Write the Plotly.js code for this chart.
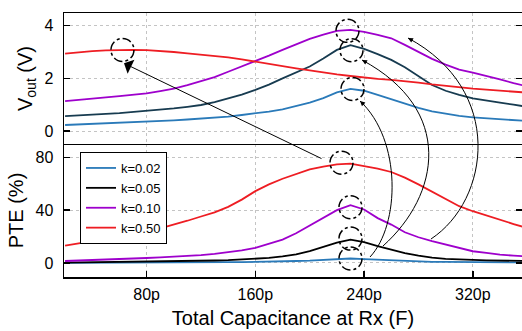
<!DOCTYPE html>
<html>
<head>
<meta charset="utf-8">
<script src="https://cdn.plot.ly/plotly-3.0.1.min.js"></script>
<style>html,body{margin:0;padding:0;background:#fff;}#chart{width:522px;height:331px;}</style>
</head>
<body>
<div id="chart"></div>
<script>
// ---- data ----
const capPF = [20,30,40,50,60,70,80,90,100,110,120,130,140,150,160,170,180,190,200,210,220,230,240,250,260,270,280,290,300,310,320,330,340,350,360];
const tickVals = [80,160,240,320];
const tickText = ['80p','160p','240p','320p'];
const kLabels = ['k=0.02','k=0.05','k=0.10','k=0.50'];

const voutK002 = [0.23,0.25,0.27,0.29,0.31,0.33,0.35,0.38,0.41,0.44,0.47,0.50,0.55,0.61,0.67,0.74,0.82,0.95,1.08,1.25,1.47,1.60,1.53,1.37,1.20,1.05,0.88,0.75,0.66,0.58,0.52,0.48,0.44,0.41,0.38];
const voutK005 = [0.57,0.59,0.62,0.65,0.68,0.72,0.76,0.81,0.86,0.92,0.99,1.10,1.23,1.38,1.56,1.76,2.00,2.22,2.45,2.75,3.08,3.26,3.12,2.92,2.70,2.42,2.08,1.75,1.53,1.37,1.24,1.15,1.08,1.00,0.92];
const voutK010 = [1.14,1.18,1.23,1.28,1.33,1.38,1.43,1.52,1.61,1.74,1.90,2.05,2.25,2.45,2.63,2.86,3.08,3.30,3.50,3.66,3.80,3.84,3.76,3.65,3.52,3.27,3.00,2.74,2.52,2.33,2.22,2.10,1.96,1.82,1.70];
const voutK050 = [2.94,2.99,3.03,3.06,3.08,3.08,3.07,3.04,3.00,2.95,2.90,2.86,2.80,2.72,2.63,2.55,2.47,2.38,2.30,2.22,2.15,2.09,2.03,1.98,1.94,1.90,1.84,1.77,1.71,1.66,1.61,1.57,1.53,1.49,1.46];

const pteK002 = [0.1,0.1,0.1,0.2,0.2,0.2,0.2,0.3,0.3,0.3,0.4,0.5,0.6,0.7,0.8,1.0,1.2,1.5,1.8,2.3,2.9,3.4,3.0,2.5,2.0,1.5,1.1,0.9,0.8,0.7,0.6,0.5,0.5,0.4,0.4];
const pteK005 = [0.3,0.4,0.5,0.6,0.7,0.8,0.9,1.0,1.2,1.4,1.6,1.9,2.2,2.6,3.0,3.8,5.0,6.6,9.0,12.0,15.5,17.7,15.8,12.8,10.0,7.5,5.5,4.0,3.2,2.6,2.3,2.0,1.8,1.6,1.5];
const pteK010 = [1.5,1.8,2.2,2.6,3.0,3.4,3.8,4.3,4.7,5.3,6.0,6.9,8.0,9.5,11.4,14.3,17.7,22.5,28.5,34.5,40.0,43.8,40.5,34.0,29.1,23.3,19.5,16.5,13.8,11.4,8.9,7.7,6.3,5.6,5.0];
const pteK050 = [13.2,14.8,16.5,18.2,20.0,21.8,23.5,26.2,29.0,32.0,35.2,38.4,42.5,48.0,54.4,59.5,63.8,67.5,70.9,73.0,74.6,75.2,73.6,71.5,68.9,64.6,59.5,54.0,48.5,43.0,39.2,35.8,32.9,29.5,26.5];

// ---- styling ----
const FONT = 'Liberation Sans, Arial, sans-serif';
const colVout = ['#2a7ab9','#173b50','#9e00cc','#ee1d23'];
const colPte  = ['#2a7ab9','#000000','#9e00cc','#ee1d23'];
const W = 522, H = 331, M = {l:64, r:0, t:13, b:54};
const split = 0.5038;

const voutSeries = [voutK002, voutK005, voutK010, voutK050];
const pteSeries  = [pteK002, pteK005, pteK010, pteK050];

const traces = [];
voutSeries.forEach((s,i) => traces.push({
  x: capPF, y: s, xaxis:'x2', yaxis:'y2', type:'scatter', mode:'lines',
  line:{color: colVout[i], width:1.8}, showlegend:false, hoverinfo:'skip'
}));
pteSeries.forEach((s,i) => traces.push({
  x: capPF, y: s, xaxis:'x', yaxis:'y', type:'scatter', mode:'lines', name: kLabels[i],
  line:{color: colPte[i], width:1.8}, hoverinfo:'skip'
}));

// helpers for decorations
function px2x(px){ return (px - M.l) / (W - M.l - M.r); }
function py2y(py){ return (H - M.b - py) / (H - M.t - M.b); }
function peakIdx(a){ let b=0; a.forEach((v,i)=>{ if(v>a[b]) b=i; }); return b; }

const shapes = [];
function circ(xr, yr, series, dx, dy){
  const i = peakIdx(series);
  shapes.push({type:'circle', xref:xr, yref:yr, xsizemode:'pixel', ysizemode:'pixel',
    xanchor: capPF[i], yanchor: series[i],
    x0: dx-11.5, x1: dx+11.5, y0: dy-11.5, y1: dy+11.5,
    line:{color:'#000', width:1.5, dash:'dashdot'}, layer:'above'});
}
circ('x2','y2', voutK050, 3, 0);
circ('x2','y2', voutK010, -3, -1);
circ('x2','y2', voutK005, 1, -5);
circ('x2','y2', voutK002, 2, 0);
circ('x','y', pteK050, -9, 1);
circ('x','y', pteK010, 0, -2);
circ('x','y', pteK005, 0, 1);
circ('x','y', pteK002, 0, 0);

// curved arrows (pixel geometry converted to paper)
const arcs = [
  [[370,257],[400,225],[402,140],[360,101]],
  [[383,246],[440,195],[455,110],[362,60]],
  [[431,239],[490,200],[505,90],[408,38]]
];
const annotations = [];
arcs.forEach(p => {
  const path = 'M ' + px2x(p[0][0]) + ',' + py2y(p[0][1]) +
    ' C ' + px2x(p[1][0]) + ',' + py2y(p[1][1]) + ' ' + px2x(p[2][0]) + ',' + py2y(p[2][1]) +
    ' ' + px2x(p[3][0]) + ',' + py2y(p[3][1]);
  shapes.push({type:'path', xref:'paper', yref:'paper', path: path, line:{color:'#000', width:1}, layer:'above'});
  const dx = p[2][0]-p[3][0], dy = p[2][1]-p[3][1], L = Math.hypot(dx,dy);
  annotations.push({xref:'paper', yref:'paper', x: px2x(p[3][0]), y: py2y(p[3][1]),
    ax: dx/L*7, ay: dy/L*7, text:'', showarrow:true, arrowhead:2, arrowsize:1, arrowwidth:1, arrowcolor:'#000'});
});
// straight arrow from PTE peak (k=0.5) to Vout peak (k=0.5)
annotations.push({xref:'paper', yref:'paper', x: px2x(124), y: py2y(63.3), ax: 199, ay: 96,
  text:'', showarrow:true, arrowhead:1, arrowsize:2.6, arrowwidth:1, arrowcolor:'#000'});

const gridStyle = {showgrid:true, gridcolor:'#c4c4c4', gridwidth:1, griddash:'dot'};
const layout = {
  width: W, height: H, margin: M,
  paper_bgcolor:'#fff', plot_bgcolor:'#fff',
  font:{family: FONT, size:16, color:'#000'},
  showlegend:true,
  legend:{x: px2x(80), y: py2y(152), xanchor:'left', yanchor:'top',
    bgcolor:'#fff', bordercolor:'#000', borderwidth:1,
    font:{family: FONT, size:13, color:'#000'}, tracegroupgap:0, itemwidth:30},
  xaxis: Object.assign({domain:[0,1], anchor:'y', range:[19.2,356.2],
    tickvals: tickVals, ticktext: tickText, ticks:'inside', ticklen:6, tickwidth:1.5, tickcolor:'#000',
    showline:true, linecolor:'#000', linewidth:1.5, mirror:false, zeroline:false,
    ticklabelstandoff: 2,
    title:{text:'Total Capacitance at Rx (F)', font:{size:20}, standoff: 9}}, gridStyle),
  xaxis2: Object.assign({domain:[0,1], anchor:'y2', matches:'x', range:[19.2,356.2],
    tickvals: tickVals, showticklabels:false, ticks:'',
    showline:true, linecolor:'#000', linewidth:1.5, mirror:true, zeroline:false}, gridStyle),
  yaxis: Object.assign({domain:[0, split], anchor:'x', range:[-10.6, 90.1],
    tickvals:[0,40,80], ticks:'inside', ticklen:6, tickwidth:1.5, tickcolor:'#000',
    showline:true, linecolor:'#000', linewidth:1.5, mirror:'ticks', zeroline:false,
    ticklabelstandoff: 6,
    title:{text:'PTE (%)', font:{size:20}, standoff: 6}}, gridStyle),
  yaxis2: Object.assign({domain:[split, 1], anchor:'x2', range:[-0.49, 4.48],
    tickvals:[0,2,4], ticks:'inside', ticklen:6, tickwidth:1.5, tickcolor:'#000',
    showline:true, linecolor:'#000', linewidth:1.5, mirror:'ticks', zeroline:false,
    ticklabelstandoff: 6,
    title:{text:'V<sub>out</sub> (V)', font:{size:20}, standoff: 6}}, gridStyle),
  shapes: shapes,
  annotations: annotations
};

Plotly.newPlot('chart', traces, layout, {displayModeBar:false, staticPlot:true});
</script>
</body>
</html>
